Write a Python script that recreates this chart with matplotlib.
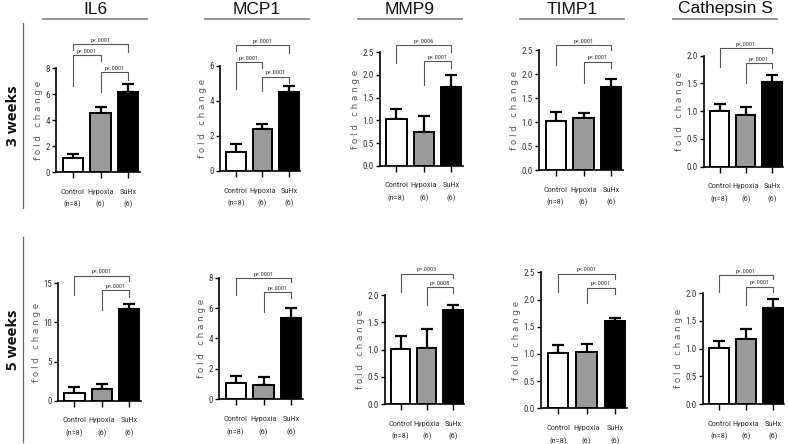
import matplotlib
matplotlib.use("Agg")
import matplotlib.pyplot as plt
from matplotlib.lines import Line2D
from matplotlib import font_manager
import numpy as np

# ---- data -------------------------------------------------------------
groups = ["Control", "Hypoxia", "SuHx"]
group_n = ["(n=8)", "(6)", "(6)"]
markers = ["IL6", "MCP1", "MMP9", "TIMP1", "Cathepsin S"]
row_labels = ["3 weeks", "5 weeks"]

# 3 weeks
mean_3wk = [
    [1.08, 4.52, 6.19],
    [1.06, 2.37, 4.52],
    [1.02, 0.75, 1.74],
    [1.02, 1.08, 1.72],
    [1.01, 0.94, 1.52],
]
sem_3wk = [
    [0.29, 0.46, 0.57],
    [0.48, 0.31, 0.34],
    [0.24, 0.35, 0.26],
    [0.18, 0.10, 0.17],
    [0.12, 0.13, 0.13],
]
# 5 weeks
mean_5wk = [
    [1.02, 1.45, 11.67],
    [1.05, 0.94, 5.37],
    [1.01, 1.03, 1.72],
    [1.01, 1.04, 1.61],
    [1.01, 1.17, 1.73],
]
sem_5wk = [
    [0.68, 0.68, 0.63],
    [0.51, 0.51, 0.62],
    [0.24, 0.35, 0.10],
    [0.15, 0.15, 0.05],
    [0.13, 0.19, 0.17],
]
# p values: (control vs SuHx, hypoxia vs SuHx, control vs hypoxia or None)
pvals_3wk = [
    ["p<.0001", "p<.0001", "p<.0001"],
    ["p<.0001", "p<.0001", "p<.0001"],
    ["p=.0006", "p<.0001", None],
    ["p<.0001", "p<.0001", None],
    ["p<.0001", "p<.0001", None],
]
pvals_5wk = [
    ["p<.0001", "p<.0001", None],
    ["p<.0001", "p<.0001", None],
    ["p=.0003", "p=.0008", None],
    ["p<.0001", "p<.0001", None],
    ["p<.0001", "p<.0001", None],
]
ymax_3wk = [8, 6, 2.5, 2.5, 2.0]
ystep_3wk = [2, 2, 0.5, 0.5, 0.5]
ymax_5wk = [15, 8, 2.0, 2.5, 2.0]
ystep_5wk = [5, 2, 0.5, 0.5, 0.5]

# ---- layout (pixels in a 788x444 canvas) --------------------------------
W, H = 788, 444
# left spine x, axis end x, y of zero, y of top tick
axes_px_3wk = [(56, 140, 172, 68), (220, 300, 171, 65.7), (380, 463, 165.7, 52.3),
               (539, 623, 170, 50), (704, 783, 166.7, 55.7)]
axes_px_5wk = [(58, 141, 400.7, 283.3), (219, 303, 399.3, 277.7), (385, 464, 404, 295),
               (541, 627, 408.3, 272.3), (703, 784, 404, 293.3)]
# bracket geometry (data units): [bar y, left leg bottom, right leg bottom]
# order matches pvals: C-S, H-S, C-H
brackets_3wk = [
    [(9.81, 9.37, 9.21), (7.66, 6.19, 7.10), (8.98, 6.58, 8.52)],
    [(7.18, 6.85, 6.70), (5.37, 4.56, 4.99), (6.19, 4.65, 5.85)],
    [(2.66, 2.26, 2.51), (2.31, 1.79, 2.15)],
    [(2.60, 2.19, 2.50), (2.26, 1.81, 2.12)],
    [(2.13, 1.80, 2.04), (1.86, 1.50, 1.77)],
]
brackets_5wk = [
    [(15.98, 13.5, 15.34), (14.15, 11.59, 13.29)],
    [(7.96, 6.86, 7.70), (7.04, 5.77, 6.64)],
    [(2.39, 2.06, 2.31), (2.15, 1.82, 2.03)],
    [(2.47, 2.14, 2.37), (2.22, 1.93, 2.11)],
    [(2.33, 2.03, 2.25), (2.12, 1.79, 2.03)],
]
pairs = [(0, 2), (1, 2), (0, 1)]
bar_colors = ["white", "#9a9a9a", "black"]
text_grey = "#333333"

# pick a condensed face if one is installed
installed = {f.name for f in font_manager.fontManager.ttflist}
narrow = [f for f in ["Liberation Sans Narrow", "DejaVu Sans Condensed",
                      "Roboto Condensed", "Open Sans Condensed"] if f in installed]
narrow_ok = bool(narrow)
narrow = narrow + ["Liberation Sans", "DejaVu Sans"]
xtick_fs = 6 if narrow_ok else 5.4
ytick_fs = 6.5 if narrow_ok else 6

fig = plt.figure(figsize=(W / 100, H / 100), dpi=100)


def px_rect(left, right, y0, ytop):
    return [left / W, 1 - y0 / H, (right - left) / W, (y0 - ytop) / H]


def draw_panel(rect, means, sems, ymax, ystep, pv, brk):
    ax = fig.add_axes(px_rect(*rect))
    x = np.arange(len(groups))
    ax.bar(x, means, width=0.73, color=bar_colors, edgecolor="black",
           linewidth=1.4, zorder=2)
    # upper-only error bars
    ax.errorbar(x, means, yerr=[np.zeros(3), sems], fmt="none", ecolor="black",
                elinewidth=1.6, capsize=4.5, capthick=1.6, zorder=1)
    ax.set_xlim(-0.6, 2.42)
    ax.set_ylim(0, ymax)
    ticks = np.arange(0, ymax + 1e-9, ystep)
    ax.set_yticks(ticks)
    if ystep < 1:
        ax.set_yticklabels([f"{t:.1f}" for t in ticks])
    else:
        ax.set_yticklabels([f"{t:.0f}" for t in ticks])
    ax.set_xticks(x)
    ax.set_xticklabels([f"{g}\n{n}" for g, n in zip(groups, group_n)],
                       linespacing=2.0)
    for lab in ax.get_xticklabels():
        lab.set_family(narrow)
        lab.set_fontsize(xtick_fs)
        lab.set_color(text_grey)
    for lab in ax.get_yticklabels():
        lab.set_family(narrow)
        lab.set_fontsize(ytick_fs)
        lab.set_color(text_grey)
    ax.tick_params(axis="y", length=3, width=1, pad=1.5)
    ax.tick_params(axis="x", length=4, width=1, pad=8)
    for s in ["top", "right"]:
        ax.spines[s].set_visible(False)
    ax.spines["left"].set_linewidth(1.2)
    ax.spines["bottom"].set_linewidth(1.2)
    ax.spines["left"].set_bounds(0, ymax)
    ax.set_ylabel("f o l d   c h a n g e", fontsize=6.3, color="#555555",
                  labelpad=1.5)
    ax.patch.set_alpha(0)

    for (i, j), label, geom in zip(pairs, pv, brk):
        if label is None:
            continue
        yb, lb, rb = geom
        ax.plot([i, i, j, j], [lb, yb, yb, rb], color="#555555", lw=0.8,
                clip_on=False, zorder=3)
        ax.text((i + j) / 2, yb + ymax * 0.012, label, ha="center",
                va="bottom", fontsize=4.6, family=narrow, color=text_grey,
                clip_on=False)
    return ax


for k in range(len(markers)):
    draw_panel(axes_px_3wk[k], mean_3wk[k], sem_3wk[k], ymax_3wk[k],
               ystep_3wk[k], pvals_3wk[k], brackets_3wk[k])
    draw_panel(axes_px_5wk[k], mean_5wk[k], sem_5wk[k], ymax_5wk[k],
               ystep_5wk[k], pvals_5wk[k], brackets_5wk[k])

# column headers with underline
header_x = [95, 257, 410, 572, 725]
for name, cx in zip(markers, header_x):
    fig.text(cx / W, 1 - 9 / H, name, ha="center", va="center", fontsize=12.5,
             family=["Liberation Sans", "DejaVu Sans"], color="#111111")
    fig.add_artist(Line2D([(cx - 52) / W, (cx + 52) / W], [1 - 19 / H] * 2,
                          color="#8a8a8a", lw=1.3))

# row labels with vertical rule
for label, (y_top, y_bot) in zip(row_labels, [(23, 208), (237, 442)]):
    fig.text(13 / W, 1 - (y_top + y_bot) / 2 / H, label, rotation=90,
             ha="center", va="center", fontsize=11, fontweight="bold",
             family=["Open Sans", "DejaVu Sans"], color="#111111")
    fig.add_artist(Line2D([23 / W] * 2, [1 - y_top / H, 1 - y_bot / H],
                          color="#666666", lw=0.9))

fig.savefig("out.png", dpi=100)
